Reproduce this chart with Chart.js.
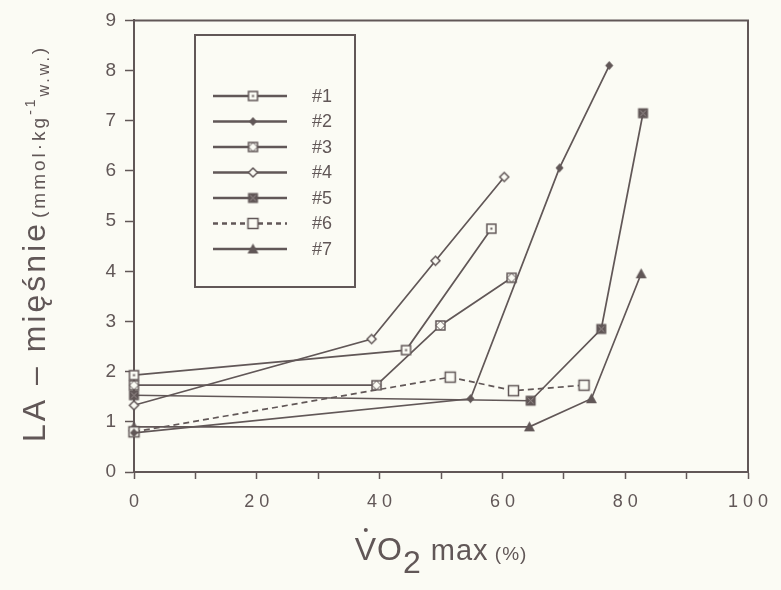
<!DOCTYPE html>
<html><head><meta charset="utf-8">
<script src="https://cdn.jsdelivr.net/npm/chart.js@4.4.0/dist/chart.umd.min.js"></script>
<style>html,body{margin:0;padding:0;background:#fbfbf4;}canvas{display:block;}</style>
</head><body>
<canvas id="c" width="781" height="590"></canvas>
<script>
// ---- data ----
const seriesNames = ['#1', '#2', '#3', '#4', '#5', '#6', '#7'];
const s1x = [0, 44.3, 58.2];          const s1y = [1.93, 2.43, 4.85];
const s2x = [0, 54.8, 69.3, 77.4];    const s2y = [0.78, 1.46, 6.06, 8.1];
const s3x = [0, 39.5, 49.9, 61.5];    const s3y = [1.73, 1.73, 2.92, 3.87];
const s4x = [0, 38.7, 49.1, 60.3];    const s4y = [1.33, 2.65, 4.21, 5.88];
const s5x = [0, 64.6, 76.1, 82.9];    const s5y = [1.53, 1.42, 2.85, 7.15];
const s6x = [0, 51.5, 61.8, 73.3];    const s6y = [0.8, 1.89, 1.62, 1.73];
const s7x = [0, 64.4, 74.5, 82.6];    const s7y = [0.9, 0.9, 1.46, 3.95];
const xTickLabels = ['0', '2 0', '4 0', '6 0', '8 0', '1 0 0'];
const yTickLabels = ['0', '1', '2', '3', '4', '5', '6', '7', '8', '9'];

// ---- style ----
const INK = '#615757';
const BG = '#fbfbf4';
const FONT = '"Liberation Sans", Arial, sans-serif';

function mk(drawFn) {
  const c = document.createElement('canvas');
  c.width = 15; c.height = 15;
  const g = c.getContext('2d');
  g.translate(7.5, 7.5);
  g.strokeStyle = INK; g.fillStyle = INK; g.lineWidth = 1.5;
  drawFn(g);
  return c;
}
const markers = [
  mk(g => { g.fillStyle = BG; g.fillRect(-4.5,-4.5,9,9); g.strokeRect(-4.5,-4.5,9,9); g.fillStyle = INK; g.fillRect(-1,-1,2,2); }),
  mk(g => { g.beginPath(); g.moveTo(0,-4.5); g.lineTo(4,0); g.lineTo(0,4.5); g.lineTo(-4,0); g.closePath(); g.fill(); }),
  mk(g => { g.fillStyle = BG; g.fillRect(-4.5,-4.5,9,9); g.strokeRect(-4.5,-4.5,9,9); g.lineWidth = 1; g.beginPath(); g.moveTo(0,-4.5); g.lineTo(4.5,0); g.lineTo(0,4.5); g.lineTo(-4.5,0); g.closePath(); g.stroke(); }),
  mk(g => { g.fillStyle = BG; g.beginPath(); g.moveTo(0,-4.5); g.lineTo(4.5,0); g.lineTo(0,4.5); g.lineTo(-4.5,0); g.closePath(); g.fill(); g.stroke(); }),
  mk(g => { g.fillRect(-5,-5,10,10); g.strokeStyle = '#9a9090'; g.lineWidth = 1; g.beginPath(); g.moveTo(-3,-3); g.lineTo(3,3); g.moveTo(3,-3); g.lineTo(-3,3); g.stroke(); }),
  mk(g => { g.fillStyle = BG; g.fillRect(-5,-5,10,10); g.strokeRect(-5,-5,10,10); }),
  mk(g => { g.beginPath(); g.moveTo(0,-5.5); g.lineTo(5.5,4.5); g.lineTo(-5.5,4.5); g.closePath(); g.fill(); })
];

const xs = [s1x, s2x, s3x, s4x, s5x, s6x, s7x];
const ys = [s1y, s2y, s3y, s4y, s5y, s6y, s7y];
const datasets = seriesNames.map((name, i) => ({
  label: name,
  data: xs[i].map((x, k) => ({ x: x, y: ys[i][k] })),
  borderColor: INK,
  backgroundColor: INK,
  borderWidth: 1.7,
  borderDash: i === 5 ? [6, 4] : [],
  pointStyle: markers[i],
  pointRadius: 4,
  tension: 0,
  clip: false
}));

const decor = {
  id: 'decor',
  beforeDraw(chart) {
    const ctx = chart.ctx;
    ctx.save(); ctx.fillStyle = BG; ctx.fillRect(0, 0, chart.width, chart.height); ctx.restore();
  },
  afterDraw(chart) {
    const ctx = chart.ctx, a = chart.chartArea;
    ctx.save();
    // frame top and right
    ctx.strokeStyle = INK; ctx.lineWidth = 2;
    ctx.beginPath();
    ctx.moveTo(a.left, a.top); ctx.lineTo(a.right, a.top); ctx.lineTo(a.right, a.bottom);
    ctx.stroke();
    // legend box
    ctx.lineWidth = 2;
    ctx.fillStyle = BG;
    ctx.fillRect(195, 35, 160, 252);
    ctx.strokeRect(195, 35, 160, 252);
    ctx.font = '18px ' + FONT;
    ctx.textBaseline = 'middle';
    seriesNames.forEach((name, i) => {
      const y = 96 + i * 25.5;
      ctx.strokeStyle = INK; ctx.lineWidth = 2.4;
      ctx.setLineDash(i === 5 ? [5, 4] : []);
      ctx.beginPath(); ctx.moveTo(213, y); ctx.lineTo(287, y); ctx.stroke();
      ctx.setLineDash([]);
      const m = markers[i];
      ctx.drawImage(m, 253 - m.width / 2, y - m.height / 2);
      ctx.fillStyle = INK;
      ctx.fillText(name, 312, y + 1);
    });
    // y-axis title
    ctx.fillStyle = INK;
    ctx.save();
    ctx.translate(45, 442);
    ctx.rotate(-Math.PI / 2);
    ctx.textBaseline = 'alphabetic';
    ctx.letterSpacing = '3px';
    ctx.font = '32px ' + FONT;
    let px = 0;
    ctx.fillText('LA – mięśnie', px, 0);
    px += ctx.measureText('LA – mięśnie').width + 3;
    ctx.letterSpacing = '3px';
    ctx.font = '19px ' + FONT;
    ctx.fillText('(mmol·kg', px, 0);
    px += ctx.measureText('(mmol·kg').width;
    ctx.font = '14px ' + FONT;
    ctx.fillText('-1', px, -10);
    px += ctx.measureText('-1').width;
    ctx.font = '16px ' + FONT;
    ctx.fillText('w.w.', px, 4);
    px += ctx.measureText('w.w.').width;
    ctx.font = '19px ' + FONT;
    ctx.fillText(')', px, 0);
    ctx.restore();
    // x-axis title
    ctx.save();
    ctx.textBaseline = 'alphabetic';
    ctx.letterSpacing = '1px';
    const parts = [
      { t: 'VO', f: '32px ' + FONT, dy: 0 },
      { t: '2', f: '32px ' + FONT, dy: 13 },
      { t: ' max', f: '29px ' + FONT, dy: 0 },
      { t: ' (%)', f: '19px ' + FONT, dy: 0 }
    ];
    let total = 0;
    parts.forEach(p => { ctx.font = p.f; p.w = ctx.measureText(p.t).width; total += p.w; });
    let x0 = (a.left + a.right) / 2 - total / 2;
    const base = 560;
    parts.forEach((p, k) => {
      ctx.font = p.f;
      ctx.fillText(p.t, x0, base + p.dy);
      if (k === 0) {
        const vw = ctx.measureText('V').width;
        ctx.beginPath(); ctx.arc(x0 + vw / 2, base - 30, 2, 0, Math.PI * 2); ctx.fill();
      }
      x0 += p.w;
    });
    ctx.restore();
    ctx.restore();
  }
};

new Chart(document.getElementById('c'), {
  type: 'line',
  data: { datasets: datasets },
  options: {
    responsive: false,
    animation: false,
    devicePixelRatio: 1,
    layout: { padding: { left: 0, right: 33, top: 10, bottom: 0 } },
    plugins: { legend: { display: false }, tooltip: { enabled: false } },
    scales: {
      x: {
        type: 'linear', min: 0, max: 100,
        afterFit(s) { s.height = 118; },
        ticks: {
          stepSize: 10, autoSkip: false, maxRotation: 0, padding: 12,
          color: INK, font: { size: 18, family: FONT },
          callback: v => (v % 20 === 0 ? xTickLabels[v / 20] : '')
        },
        grid: { drawOnChartArea: false, tickLength: 7, color: INK, tickWidth: 1.5 },
        border: { color: INK, width: 2 }
      },
      y: {
        min: 0, max: 9,
        afterFit(s) { s.width = 134; },
        ticks: {
          stepSize: 1, padding: 9, color: INK, font: { size: 19, family: FONT },
          callback: v => yTickLabels[v]
        },
        grid: { drawOnChartArea: false, tickLength: 9, color: INK, tickWidth: 1.5 },
        border: { color: INK, width: 2 }
      }
    }
  },
  plugins: [decor]
});
</script>
</body></html>
